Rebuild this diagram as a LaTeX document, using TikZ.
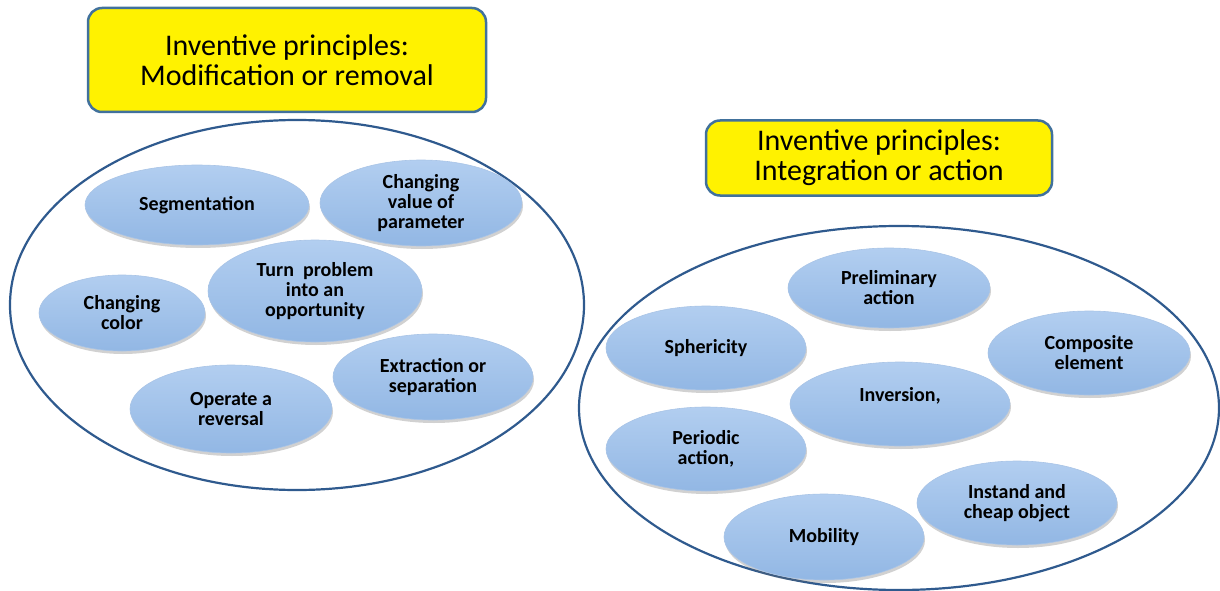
\documentclass[tikz,border=0pt]{standalone}
\usepackage{fontspec}
\setmainfont{Carlito}
\usetikzlibrary{shapes.geometric,shadows}
\definecolor{boxedge}{HTML}{41719C}
\definecolor{bigedge}{HTML}{2F5A8E}
\definecolor{elltop}{HTML}{B2CEF0}
\definecolor{ellbot}{HTML}{92B7E4}
\definecolor{elledge}{HTML}{A9C4E6}
\tikzset{
  titlebox/.style={draw=boxedge, line width=2.5pt, fill=yellow, rounded corners=14pt,
    align=center, font=\fontsize{30}{30}\selectfont, inner sep=0pt},
  bigell/.style={draw=bigedge, line width=2.2pt, ellipse, inner sep=0pt},
  item/.style={ellipse, inner sep=0pt, top color=elltop, bottom color=ellbot,
    draw=elledge, line width=0.6pt, align=center,
    font=\fontsize{20}{20}\selectfont\bfseries,
    drop shadow={shadow xshift=1pt, shadow yshift=-3pt, opacity=0.3, fill=black!60}}
}
\begin{document}
\begin{tikzpicture}[x=1pt,y=-1pt]
\useasboundingbox (0,0) rectangle (1220,591);
% left group
\node[titlebox, minimum width=398pt, minimum height=104pt] (t1) at (287,60)
  {Inventive principles:\\Modification or removal};
\node[bigell, minimum width=574pt, minimum height=370pt] (b1) at (297,305) {};
\node[item, minimum width=224pt, minimum height=80pt] (seg) at (197,205) {Segmentation};
\node[item, minimum width=202pt, minimum height=86pt] (cvp) at (421,203) {Changing\\value of\\parameter};
\node[item, minimum width=214pt, minimum height=102pt] (tpo) at (315,291) {Turn~ problem\\into an\\opportunity};
\node[item, minimum width=166pt, minimum height=76pt] (cc) at (122,313) {Changing\\color};
\node[item, minimum width=200pt, minimum height=86pt] (eos) at (433,377) {Extraction or\\separation};
\node[item, minimum width=202pt, minimum height=88pt] (oar) at (231,409) {Operate a\\reversal};
% right group
\node[titlebox, minimum width=346pt, minimum height=75pt] (t2) at (879,158)
  {Inventive principles:\\Integration or action};
\node[bigell, minimum width=640pt, minimum height=364pt] (b2) at (899,408) {};
\node[item, minimum width=202pt, minimum height=80pt] (pre) at (889,288) {Preliminary\\action};
\node[item, minimum width=200pt, minimum height=84pt] (sph) at (706,348) {Sphericity};
\node[item, minimum width=202pt, minimum height=84pt] (com) at (1089,353) {Composite\\element};
\node[item, minimum width=220pt, minimum height=84pt] (inv) at (900,404) {Inversion,\\~};
\node[item, minimum width=200pt, minimum height=84pt] (per) at (706,449) {Periodic\\action,};
\node[item, minimum width=200pt, minimum height=84pt] (ins) at (1017,503) {Instand and\\cheap object};
\node[item, minimum width=200pt, minimum height=86pt] (mob) at (824,537) {Mobility};
\end{tikzpicture}
\end{document}
